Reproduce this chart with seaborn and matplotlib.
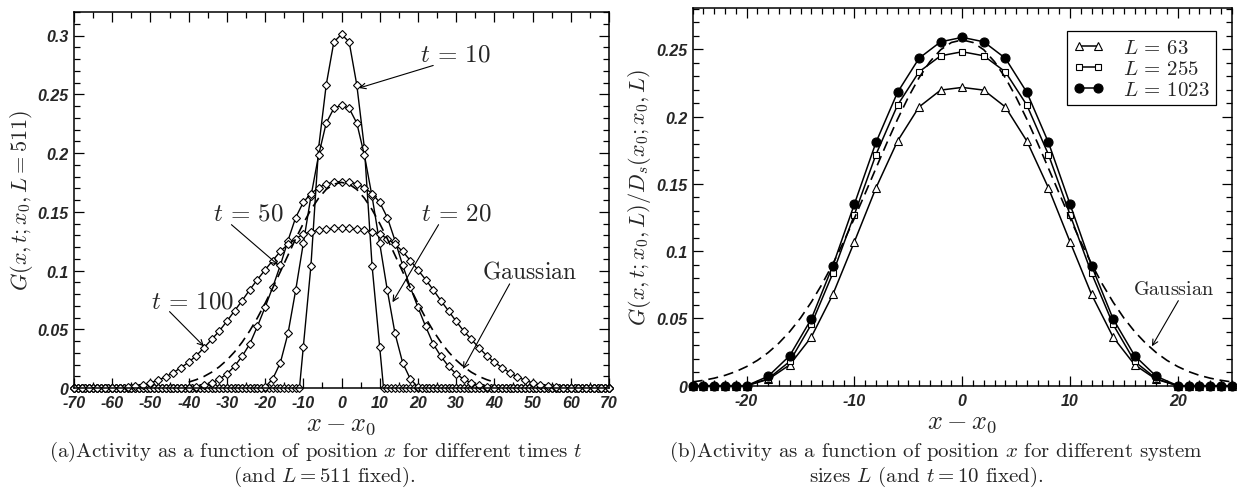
import matplotlib
matplotlib.use("Agg")
import matplotlib.pyplot as plt
import seaborn as sns
from matplotlib.ticker import MultipleLocator, FixedLocator, FixedFormatter
from matplotlib.font_manager import FontProperties

sns.set_style("ticks")
plt.rcParams['font.family'] = ['DejaVu Sans']
plt.rcParams['mathtext.fontset'] = 'cm'

# ---------------- panel (a): L = 511, different times ----------------
t10_x = [-10, -8, -6, -4, -2, 0, 2, 4, 6, 8, 10]
t10_y = [0.035, 0.104, 0.204, 0.258, 0.2945, 0.301, 0.2945, 0.258, 0.204, 0.104, 0.035]

t20_x = [-20, -18, -16, -14, -12, -10, -8, -6, -4, -2, 0, 2, 4, 6, 8, 10, 12, 14, 16, 18, 20]
t20_y = [0.0008, 0.0077, 0.0215, 0.0465, 0.083, 0.123, 0.163, 0.198, 0.2255, 0.238, 0.2405,
         0.238, 0.2255, 0.198, 0.163, 0.123, 0.083, 0.0465, 0.0215, 0.0077, 0.0008]

t50_x = [-42, -40, -38, -36, -34, -32, -30, -28, -26, -24, -22, -20, -18, -16, -14, -12, -10,
         -8, -6, -4, -2, 0, 2, 4, 6, 8, 10, 12, 14, 16, 18, 20, 22, 24, 26, 28, 30, 32, 34,
         36, 38, 40, 42]
t50_y = [0.0, 0.0004, 0.001, 0.0022, 0.0042, 0.0075, 0.0119, 0.0185, 0.027, 0.0375, 0.0525,
         0.0687, 0.0858, 0.1045, 0.1255, 0.145, 0.158, 0.1655, 0.1705, 0.1738, 0.1752, 0.1757,
         0.1752, 0.1738, 0.1705, 0.1655, 0.158, 0.145, 0.1255, 0.1045, 0.0858, 0.0687, 0.0525,
         0.0375, 0.027, 0.0185, 0.0119, 0.0075, 0.0042, 0.0022, 0.001, 0.0004, 0.0]

t100_x = [-70, -68, -66, -64, -62, -60, -58, -56, -54, -52, -50, -48, -46, -44, -42, -40, -38,
          -36, -34, -32, -30, -28, -26, -24, -22, -20, -18, -16, -14, -12, -10, -8, -6, -4, -2,
          0, 2, 4, 6, 8, 10, 12, 14, 16, 18, 20, 22, 24, 26, 28, 30, 32, 34, 36, 38, 40, 42,
          44, 46, 48, 50, 52, 54, 56, 58, 60, 62, 64, 66, 68, 70]
t100_y = [0, 0, 0, 0, 0, 0.0001, 0.0003, 0.0007, 0.0015, 0.0027, 0.0044, 0.0066, 0.0095, 0.0131,
          0.0174, 0.0219, 0.0275, 0.0342, 0.0413, 0.0484, 0.0568, 0.0656, 0.0744, 0.0836,
          0.0923, 0.1005, 0.1085, 0.1163, 0.1223, 0.127, 0.131, 0.1331, 0.1343, 0.1352, 0.1358,
          0.136,
          0.1358, 0.1352, 0.1343, 0.1331, 0.131, 0.127, 0.1223, 0.1163, 0.1085, 0.1005, 0.0923,
          0.0836, 0.0744, 0.0656, 0.0568, 0.0484, 0.0413, 0.0342, 0.0275, 0.0219, 0.0174,
          0.0131, 0.0095, 0.0066, 0.0044, 0.0027, 0.0015, 0.0007, 0.0003, 0.0001, 0, 0, 0, 0, 0]

gauss_a_x = [-40, -38, -36, -34, -32, -30, -28, -26, -24, -22, -20, -18, -16, -14, -12, -10, -8,
             -6, -4, -2, 0, 2, 4, 6, 8, 10, 12, 14, 16, 18, 20, 22, 24, 26, 28, 30, 32, 34, 36,
             38, 40]
gauss_a_y = [0.005, 0.0071, 0.0098, 0.0134, 0.018, 0.0237, 0.0307, 0.039, 0.0487, 0.0597, 0.072,
             0.0852, 0.099, 0.113, 0.127, 0.140, 0.1518, 0.1615, 0.169, 0.1735, 0.175,
             0.1735, 0.169, 0.1615, 0.1518, 0.140, 0.127, 0.113, 0.099, 0.0852, 0.072, 0.0597,
             0.0487, 0.039, 0.0307, 0.0237, 0.018, 0.0134, 0.0098, 0.0071, 0.005]

# zero values read on every lattice site outside each curve's support
tail_start = {"t10": 11, "t20": 21, "t50": 43}
a_xlim = 70

a_xticks = [-70, -60, -50, -40, -30, -20, -10, 0, 10, 20, 30, 40, 50, 60, 70]
a_xticklabels = ["-70", "-60", "-50", "-40", "-30", "-20", "-10", "0", "10", "20", "30",
                 "40", "50", "60", "70"]
a_yticks = [0, 0.05, 0.1, 0.15, 0.2, 0.25, 0.3]
a_yticklabels = ["0", "0.05", "0.1", "0.15", "0.2", "0.25", "0.3"]

# ---------------- panel (b): t = 10, different sizes ----------------
b_core_x = [-18, -16, -14, -12, -10, -8, -6, -4, -2, 0, 2, 4, 6, 8, 10, 12, 14, 16, 18]
b_tail_x = [20, 21, 22, 23, 24, 25]
L63_y = [0.0047, 0.0155, 0.0361, 0.0678, 0.107, 0.147, 0.1818, 0.2072, 0.2197, 0.2217,
         0.2197, 0.2072, 0.1818, 0.147, 0.107, 0.0678, 0.0361, 0.0155, 0.0047]
L255_y = [0.0052, 0.018, 0.0455, 0.0836, 0.1272, 0.1718, 0.2085, 0.2333, 0.2452, 0.2482,
          0.2452, 0.2333, 0.2085, 0.1718, 0.1272, 0.0836, 0.0455, 0.018, 0.0052]
L1023_y = [0.007, 0.0223, 0.0496, 0.0892, 0.135, 0.1808, 0.218, 0.2434, 0.2556, 0.2589,
           0.2556, 0.2434, 0.218, 0.1808, 0.135, 0.0892, 0.0496, 0.0223, 0.007]

gauss_b_x = list(range(-25, 26))
gauss_b_y = [0.0028, 0.0040, 0.0056, 0.0077, 0.0105, 0.0142, 0.0188, 0.0246, 0.0317, 0.0402,
             0.0503, 0.0621, 0.0755, 0.0905, 0.1069, 0.1245, 0.1429, 0.1616, 0.1802, 0.1980,
             0.2144, 0.2289, 0.2408, 0.2497, 0.2551, 0.257,
             0.2551, 0.2497, 0.2408, 0.2289, 0.2144, 0.1980, 0.1802, 0.1616, 0.1429, 0.1245,
             0.1069, 0.0905, 0.0755, 0.0621, 0.0503, 0.0402, 0.0317, 0.0246, 0.0188, 0.0142,
             0.0105, 0.0077, 0.0056, 0.0040, 0.0028]

b_xticks = [-20, -10, 0, 10, 20]
b_xticklabels = ["-20", "-10", "0", "10", "20"]
b_yticks = [0, 0.05, 0.1, 0.15, 0.2, 0.25]
b_yticklabels = ["0", "0.05", "0.1", "0.15", "0.2", "0.25"]
legend_labels = [r"$L\,=\,63$", r"$L\,=\,255$", r"$L\,=\,1023$"]


def with_tails(xs, ys, start, stop):
    tail = list(range(start, stop + 1))
    neg = [-v for v in reversed(tail)]
    return neg + list(xs) + tail, [0.0] * len(neg) + list(ys) + [0.0] * len(tail)


fig = plt.figure(figsize=(12.37, 4.89), dpi=100)
ax1 = fig.add_axes([74 / 1237, 1 - 389 / 489, 535 / 1237, 376 / 489])
ax2 = fig.add_axes([692.7 / 1237, 1 - 386.7 / 489, 539 / 1237, 377.4 / 489])

tick_font = FontProperties(family="Liberation Sans", weight="bold", style="italic", size=11.5)

line_kw = dict(color="black", linewidth=1.0, errorbar=None, legend=False, clip_on=False)
dia_kw = dict(marker="D", markersize=3.8, mfc="white", mec="black", mew=0.8)

# panel (a)
xa, ya = with_tails(t10_x, t10_y, tail_start["t10"], a_xlim)
sns.lineplot(x=xa, y=ya, ax=ax1, **line_kw, **dia_kw)
xa, ya = with_tails(t20_x, t20_y, tail_start["t20"], a_xlim)
sns.lineplot(x=xa, y=ya, ax=ax1, **line_kw, **dia_kw)
xa, ya = with_tails(t50_x, t50_y, tail_start["t50"], a_xlim)
sns.lineplot(x=xa, y=ya, ax=ax1, **line_kw, **dia_kw)
sns.lineplot(x=t100_x, y=t100_y, ax=ax1, **line_kw, **dia_kw)
sns.lineplot(x=gauss_a_x, y=gauss_a_y, ax=ax1, color="black", linewidth=1.2,
             dashes=(6, 3.5), errorbar=None, legend=False)

ax1.set_xlim(-70, 70)
ax1.set_ylim(0, 0.32)
ax1.xaxis.set_major_locator(FixedLocator(a_xticks))
ax1.xaxis.set_major_formatter(FixedFormatter(a_xticklabels))
ax1.xaxis.set_minor_locator(MultipleLocator(5))
ax1.yaxis.set_major_locator(FixedLocator(a_yticks))
ax1.yaxis.set_major_formatter(FixedFormatter(a_yticklabels))
ax1.yaxis.set_minor_locator(MultipleLocator(0.01))
ax1.set_xlabel(r"$x - x_0$", fontsize=19, labelpad=0)
ax1.set_ylabel(r"$G(x,t;x_0,L=511)$", fontsize=16, labelpad=2)

arrow_kw = dict(arrowstyle="->", color="black", lw=0.8, shrinkA=0, shrinkB=0,
                mutation_scale=10)
label_kw = dict(fontsize=18, ha="center", va="center")
ax1.annotate("", xy=(4.6, 0.2553), xytext=(24, 0.2745), arrowprops=arrow_kw)
ax1.text(29.7, 0.2845, r"$t\,=\,10$", **label_kw)
ax1.annotate("", xy=(13.35, 0.073), xytext=(25.4, 0.139), arrowprops=arrow_kw)
ax1.text(30.1, 0.1497, r"$t\,=\,20$", **label_kw)
ax1.annotate("", xy=(-16.6, 0.1048), xytext=(-28.8, 0.139), arrowprops=arrow_kw)
ax1.text(-24.4, 0.1497, r"$t\,=\,50$", **label_kw)
ax1.annotate("", xy=(-36, 0.0355), xytext=(-45, 0.065), arrowprops=arrow_kw)
ax1.text(-39, 0.0744, r"$t\,=\,100$", **label_kw)
ax1.annotate("", xy=(31.8, 0.0162), xytext=(44, 0.0886), arrowprops=arrow_kw)
ax1.text(49.1, 0.0999, r"$\mathrm{Gaussian}$", fontsize=17, ha="center", va="center")

# panel (b)
for ys, lab, mk, ms, mfc in [(L63_y, legend_labels[0], "^", 5.5, "white"),
                             (L255_y, legend_labels[1], "s", 4.6, "white"),
                             (L1023_y, legend_labels[2], "o", 6.5, "black")]:
    xb, yb = with_tails(b_core_x, ys, b_tail_x[0], b_tail_x[-1])
    sns.lineplot(x=xb, y=yb, ax=ax2, color="black", linewidth=1.1, errorbar=None,
                 marker=mk, markersize=ms, mfc=mfc, mec="black", mew=0.8, label=lab,
                 clip_on=False)
sns.lineplot(x=gauss_b_x, y=gauss_b_y, ax=ax2, color="black", linewidth=1.2,
             dashes=(6, 3.5), errorbar=None, legend=False)

ax2.set_xlim(-25, 25)
ax2.set_ylim(0, 0.2805)
ax2.xaxis.set_major_locator(FixedLocator(b_xticks))
ax2.xaxis.set_major_formatter(FixedFormatter(b_xticklabels))
ax2.xaxis.set_minor_locator(MultipleLocator(1))
ax2.yaxis.set_major_locator(FixedLocator(b_yticks))
ax2.yaxis.set_major_formatter(FixedFormatter(b_yticklabels))
ax2.yaxis.set_minor_locator(MultipleLocator(0.01))
ax2.set_xlabel(r"$x - x_0$", fontsize=19, labelpad=0)
ax2.set_ylabel(r"$G(x,t;x_0,L)/D_s(x_0;x_0,L)$", fontsize=16, labelpad=2)

ax2.annotate("", xy=(17.6, 0.0293), xytext=(20.05, 0.0632), arrowprops=arrow_kw)
ax2.text(19.6, 0.0724, r"$\mathrm{Gaussian}$", fontsize=14.5, ha="center", va="center")

leg = ax2.legend(loc="upper right", bbox_to_anchor=(0.970, 0.9406), borderaxespad=0,
                 numpoints=2, fontsize=15, handlelength=1.5, handletextpad=0.9,
                 labelspacing=0.05, borderpad=0.3, fancybox=False, framealpha=1,
                 edgecolor="black")
leg.get_frame().set_linewidth(0.9)
leg.set_zorder(10)

for ax in (ax1, ax2):
    for sp in ax.spines.values():
        sp.set_visible(True)
        sp.set_linewidth(1.1)
        sp.set_color("black")
    ax.tick_params(which="both", direction="in", top=True, right=True, color="black",
                   width=0.9)
    ax.tick_params(which="major", length=7)
    ax.tick_params(which="minor", length=4)
    ax.tick_params(axis="x", which="major", pad=5)
    ax.tick_params(axis="y", which="major", pad=4)
    for lab in ax.get_xticklabels() + ax.get_yticklabels():
        lab.set_fontproperties(tick_font)
    ax.set_facecolor("white")

cap_kw = dict(fontsize=15, family="cmr10", ha="center", va="center")
fig.text(316 / 1237, 1 - 452 / 489,
         r"(a)Activity as a function of position $x$ for different times $t$", **cap_kw)
fig.text(324 / 1237, 1 - 477 / 489, r"(and $L = 511$ fixed).", **cap_kw)
fig.text(936 / 1237, 1 - 452 / 489,
         r"(b)Activity as a function of position $x$ for different system", **cap_kw)
fig.text(926 / 1237, 1 - 477 / 489, r"sizes $L$ (and $t = 10$ fixed).", **cap_kw)

fig.savefig("out.png", dpi=100, facecolor="white")
